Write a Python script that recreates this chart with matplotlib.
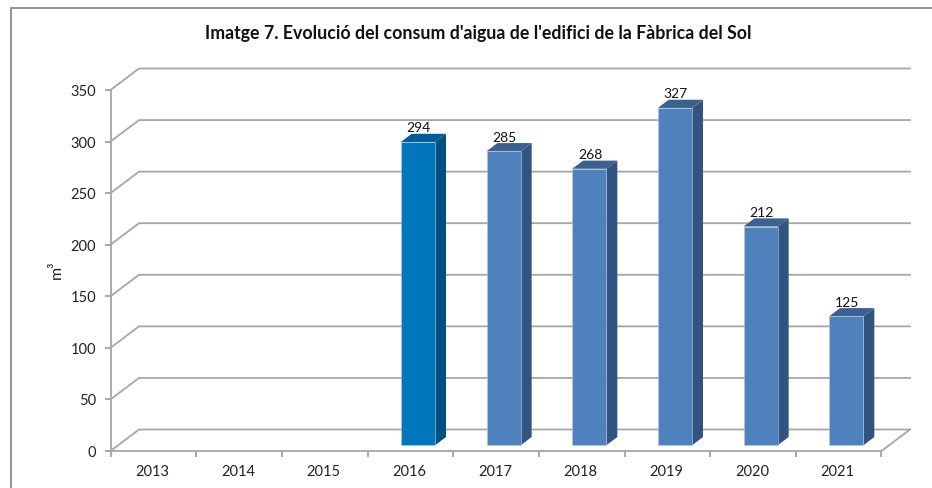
import matplotlib
matplotlib.use("Agg")
import matplotlib.pyplot as plt
from matplotlib.patches import Polygon

years = ["2013", "2014", "2015", "2016", "2017", "2018", "2019", "2020", "2021"]
values = [None, None, None, 294, 285, 268, 327, 212, 125]
y_ticks = [0, 50, 100, 150, 200, 250, 300, 350]
title = "Imatge 7. Evolució del consum d'aigua de l'edifici de la Fàbrica del Sol"
y_label = "m³"

FRONT = ["#0077BD" if y == "2016" else "#4F81BD" for y in years]
SIDE = ["#004F7F" if y == "2016" else "#325480" for y in years]
TOP = ["#005C94" if y == "2016" else "#3C6090" for y in years]
GRID = "#A6A6A6"
FONT = ["Lato", "DejaVu Sans"]
W, H = 932, 489
plt.rcParams["font.family"] = FONT

fig = plt.figure(figsize=(W / 100, H / 100), dpi=100)
bg = fig.add_axes([0, 0, 1, 1])
bg.set_xlim(0, W); bg.set_ylim(H, 0); bg.axis("off")
bg.plot([11, 11, W], [H, 9, 9], color="#8C8C8C", lw=1.3, solid_joinstyle="miter")

L, R, Y0, Y350 = 110.5, 881.5, 452, 91
ax = fig.add_axes([L / W, (H - Y0) / H, (R - L) / W, (Y0 - Y350) / H])
ax.set_xlim(0, len(years))
ax.set_ylim(0, 350)
ax.patch.set_alpha(0)
for s in ax.spines.values():
    s.set_visible(False)

# depth of the 3-D box, in data units
DX = 28.5 / ((R - L) / len(years))
DY = 21.5 / ((Y0 - Y350) / 350)


def pr(x, y, d):
    return (x + d * DX, y + d * DY)


# gridlines on the side and back walls
for t in y_ticks:
    ax.plot(*zip(pr(0, t, 0), pr(0, t, 1), pr(len(years), t, 1)),
            color=GRID, lw=1.3, clip_on=False, zorder=1, solid_joinstyle="miter")
# floor outline and axes
ax.plot(*zip(pr(0, 0, 0), pr(len(years), 0, 0), pr(len(years), 0, 1)),
        color=GRID, lw=1.3, clip_on=False, zorder=1)
ax.plot([0, 0], [0, 350], color=GRID, lw=1.3, clip_on=False, zorder=1)

# ticks
for t in y_ticks:
    ax.plot([0, 0], [t, t], marker=0, ms=4, mew=1.1, color=GRID, clip_on=False, zorder=1)
    ax.text(-0.17, t - 1.0, str(t), ha="right", va="center", fontsize=10.5, color="#222222")
for i in range(len(years) + 1):
    ax.plot([i, i], [0, 0], marker=3, ms=4, mew=1.1, color=GRID, clip_on=False, zorder=1)
for i, y in enumerate(years):
    ax.text(i + 0.49, -19.5, y, ha="center", va="center", fontsize=10.5, color="#222222")

ax.set_xticks([]); ax.set_yticks([])

# bars
BW, D0, D1 = 0.40, 0.27, 0.65
for i, v in enumerate(values):
    if v is None:
        continue
    x0, x1 = i + 0.5 - BW / 2, i + 0.5 + BW / 2
    front = [pr(x0, 0, D0), pr(x1, 0, D0), pr(x1, v, D0), pr(x0, v, D0)]
    side = [pr(x1, 0, D0), pr(x1, 0, D1), pr(x1, v, D1), pr(x1, v, D0)]
    top = [pr(x0, v, D0), pr(x1, v, D0), pr(x1, v, D1), pr(x0, v, D1)]
    ax.add_patch(Polygon(side, fc=SIDE[i], ec="none", zorder=3, clip_on=False))
    ax.add_patch(Polygon(top, fc=TOP[i], ec="none", zorder=3, clip_on=False))
    ax.add_patch(Polygon(front, fc=FRONT[i], ec="#B5C9E3", lw=0.4, zorder=4, clip_on=False))
    tx, ty = pr(i + 0.5, v, 0.29)
    ax.text(tx, ty + 8, str(v), ha="center", va="bottom", fontsize=10, color="#111111", zorder=5)

fig.text(478 / W, 1 - 33 / H, title, ha="center", va="center", fontsize=12.8,
         fontweight="bold", color="#111111")
fig.text(57 / W, 1 - 270 / H, y_label, ha="center", va="center", rotation=90,
         fontsize=11.5, color="#222222")

fig.savefig("out.png", dpi=100)
